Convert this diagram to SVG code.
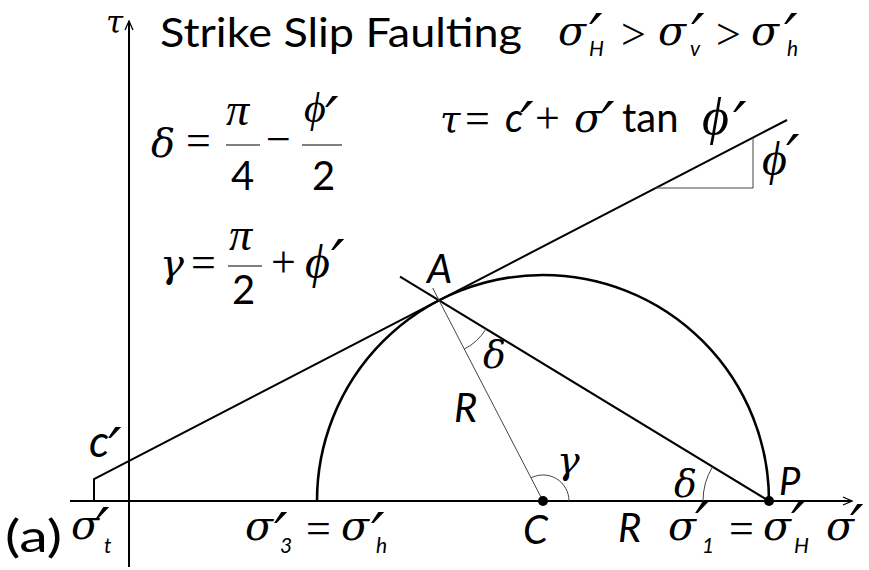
<svg xmlns="http://www.w3.org/2000/svg" width="869" height="570" viewBox="0 0 869 570">
<defs>
<style>
.gk{font-family:"DejaVu Serif","Liberation Serif",serif;font-style:italic;fill:#000}
.ph{font-family:"Liberation Serif","DejaVu Serif",serif;font-style:italic;fill:#000}
.op{font-family:"Liberation Serif","DejaVu Serif",serif;font-style:normal;fill:#000}
.sf{font-family:Lato,"Open Sans",sans-serif;font-style:normal;fill:#000}
.si{font-family:Lato,"Open Sans",sans-serif;font-style:italic;fill:#000}
.pr{font-family:"DejaVu Sans",sans-serif;font-style:italic;font-size:60px;fill:#000}
.sub{font-family:Lato,"Open Sans",sans-serif;font-style:italic;font-size:21px;fill:#000}
.ax{stroke:#000;stroke-width:2;fill:none}
.thick{stroke:#000;stroke-width:2;fill:none}
.thin{stroke:#444;stroke-width:1;fill:none}
.bar{stroke:#000;stroke-width:1}
</style>
<marker id="arr" viewBox="-10 -5 12 10" markerWidth="12" markerHeight="10" refX="0" refY="0" orient="auto" markerUnits="userSpaceOnUse">
<path d="M-9,-4 L0,0 L-9,4" fill="none" stroke="#000" stroke-width="1.3"/>
</marker>
</defs>
<rect width="869" height="570" fill="#fff"/>

<g id="axes">
<line class="ax" x1="70" y1="501" x2="852" y2="501" marker-end="url(#arr)"/>
<line class="ax" x1="129" y1="567" x2="129" y2="21" marker-end="url(#arr)"/>
</g>

<g id="circle">
<path d="M317,501 A226,226 0 0 1 769,501" stroke="#000" stroke-width="2.6" fill="none"/>
</g>

<g id="connectors">
<polyline class="thick" points="94,501 94,479.1 787,120"/>
<line class="thick" x1="400" y1="276.6" x2="769" y2="501"/>
<line class="thin" x1="432.6" y1="287.9" x2="543" y2="501"/>
<polyline class="thin" points="655.8,188 753,188 753,137.6"/>
<path class="thin" d="M464.3,349.1 A55,55 0 0 0 486,328.9"/>
<path class="thin" d="M531,477.9 A26,26 0 0 1 569,501"/>
<path class="thin" d="M703,501 A66,66 0 0 1 712.6,466.7"/>
</g>

<g id="point-C"><circle cx="543" cy="501" r="5"/></g>
<g id="point-P"><circle cx="769" cy="501" r="5"/></g>

<g id="title">
<text class="gk" x="106" y="33" font-size="31">τ</text>
<text class="sf" x="160" y="47" font-size="40" textLength="362" lengthAdjust="spacingAndGlyphs">Strike Slip Faulting</text>
<text><tspan class="gk" x="558" y="45" font-size="41">σ</tspan><tspan class="pr" x="589" y="57">′</tspan><tspan class="sub" x="589" y="56">H</tspan><tspan class="op" x="621" y="49" font-size="44">&gt;</tspan><tspan class="gk" x="658" y="45" font-size="41">σ</tspan><tspan class="pr" x="691" y="57">′</tspan><tspan class="sub" x="690" y="56">v</tspan><tspan class="op" x="716" y="49" font-size="44">&gt;</tspan><tspan class="gk" x="751" y="45" font-size="41">σ</tspan><tspan class="pr" x="784" y="57">′</tspan><tspan class="sub" x="787" y="56">h</tspan></text>
</g>

<g id="eq-delta">
<text><tspan class="gk" x="151" y="157" font-size="40">δ</tspan><tspan class="op" x="186" y="155" font-size="44">=</tspan></text>
<text class="ph" x="226" y="125" font-size="46">π</text>
<line class="bar" x1="226" y1="145" x2="260" y2="145"/>
<text class="sf" x="231" y="190" font-size="40">4</text>
<text class="op" x="266" y="154" font-size="44">−</text>
<text><tspan class="ph" x="304" y="122" font-size="42">ϕ</tspan><tspan class="pr" x="325" y="140">′</tspan></text>
<line class="bar" x1="302" y1="145" x2="342" y2="145"/>
<text class="sf" x="312" y="190" font-size="40">2</text>
</g>

<g id="eq-gamma">
<text><tspan class="gk" x="160" y="277" font-size="40">γ</tspan><tspan class="op" x="191" y="277" font-size="44">=</tspan></text>
<text class="ph" x="229" y="250" font-size="46">π</text>
<line class="bar" x1="228" y1="266" x2="262" y2="266"/>
<text class="sf" x="232" y="304" font-size="40">2</text>
<text><tspan class="op" x="271" y="277" font-size="44">+</tspan><tspan class="ph" x="305" y="278" font-size="48">ϕ</tspan><tspan class="pr" x="331" y="283">′</tspan></text>
</g>

<g id="eq-mohr">
<text><tspan class="gk" x="440" y="132" font-size="37">τ</tspan><tspan class="op" x="465" y="133" font-size="44">=</tspan><tspan class="si" x="505" y="132" font-size="40">c</tspan><tspan class="pr" x="520" y="145">′</tspan><tspan class="op" x="535" y="133" font-size="44">+</tspan><tspan class="gk" x="574" y="132" font-size="41">σ</tspan><tspan class="pr" x="601" y="145">′</tspan><tspan class="sf" x="622" y="132" font-size="40">tan</tspan><tspan class="ph" x="702" y="134" font-size="52">ϕ</tspan><tspan class="pr" x="733" y="145">′</tspan></text>
</g>

<g id="phi-label">
<text><tspan class="ph" x="762" y="175" font-size="48">ϕ</tspan><tspan class="pr" x="786" y="178">′</tspan></text>
</g>

<g id="label-A"><text class="si" x="427" y="283" font-size="40">A</text></g>
<g id="label-delta-A"><text class="gk" x="483" y="368" font-size="38">δ</text></g>
<g id="label-R1"><text class="si" x="454" y="422" font-size="40">R</text></g>
<g id="label-gamma"><text class="gk" x="557" y="473" font-size="38">γ</text></g>
<g id="label-delta-P"><text class="gk" x="674" y="497" font-size="38">δ</text></g>
<g id="label-P"><text class="si" x="779" y="495" font-size="38">P</text></g>
<g id="label-c"><text><tspan class="si" x="89" y="457" font-size="44">c</tspan><tspan class="pr" x="108" y="471">′</tspan></text></g>

<g id="bottom-labels">
<text class="sf" x="5" y="552" font-size="44" textLength="57" lengthAdjust="spacingAndGlyphs">(a)</text>
<text><tspan class="gk" x="71" y="539" font-size="41">σ</tspan><tspan class="pr" x="96" y="551">′</tspan><tspan class="sub" x="104" y="553">t</tspan></text>
<text><tspan class="gk" x="245" y="540" font-size="41">σ</tspan><tspan class="pr" x="274" y="556">′</tspan><tspan class="sub" x="280" y="553">3</tspan><tspan class="op" x="306" y="543" font-size="44">=</tspan><tspan class="gk" x="341" y="540" font-size="41">σ</tspan><tspan class="pr" x="371" y="556">′</tspan><tspan class="sub" x="376" y="553">h</tspan></text>
<text class="si" x="523" y="544" font-size="40">C</text>
<text class="si" x="618" y="542" font-size="40">R</text>
<text><tspan class="gk" x="668" y="540" font-size="41">σ</tspan><tspan class="pr" x="695" y="546">′</tspan><tspan class="sub" x="702" y="553">1</tspan><tspan class="op" x="729" y="543" font-size="44">=</tspan><tspan class="gk" x="763" y="540" font-size="41">σ</tspan><tspan class="pr" x="791" y="546">′</tspan><tspan class="sub" x="794" y="553">H</tspan></text>
<text><tspan class="gk" x="826" y="540" font-size="41">σ</tspan><tspan class="pr" x="850" y="548">′</tspan></text>
</g>
</svg>
